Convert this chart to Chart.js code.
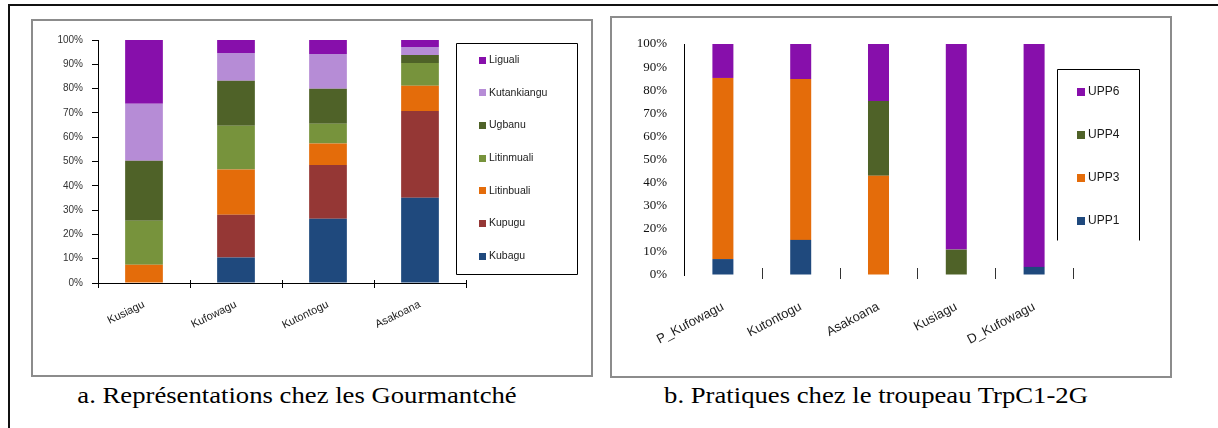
<!DOCTYPE html>
<html>
<head>
<meta charset="utf-8">
<script src="https://cdn.jsdelivr.net/npm/chart.js@4.4.0/dist/chart.umd.min.js"></script>
<style>
  body { margin: 0; width: 1218px; height: 428px; background: #fff; position: relative; overflow: hidden; }
  .frame { position: absolute; left: 8px; top: 4px; width: 1400px; height: 600px; border: 2px solid #111; box-sizing: border-box; }
  .panel { position: absolute; border: 2px solid #8c8c8c; box-sizing: border-box; }
  #panelA { left: 31px; top: 19px; width: 562px; height: 358px; }
  #panelB { left: 610px; top: 16px; width: 562px; height: 362px; }
  .box { position: absolute; }
  #boxA { left: 33px; top: 21px; width: 558px; height: 354px; }
  #boxB { left: 612px; top: 18px; width: 558px; height: 358px; }
  .caption { position: absolute; top: 384px; font-family: 'Liberation Serif', 'Times New Roman', serif; font-size: 23px; line-height: 23px; color: #000; white-space: nowrap; transform: translateX(-50%) scaleX(1.16); }
</style>
</head>
<body>
<div class="frame"></div>
<div class="panel" id="panelA"></div>
<div class="panel" id="panelB"></div>
<div class="box" id="boxA"><canvas id="chartA"></canvas></div>
<div class="box" id="boxB"><canvas id="chartB"></canvas></div>
<div class="caption" style="left:297px">a. Représentations chez les Gourmantché</div>
<div class="caption" style="left:876px">b. Pratiques chez le troupeau TrpC1-2G</div>

<script>
// --- chart a: representations (percent of each category)
const categoriesA = ['Kusiagu', 'Kufowagu', 'Kutontogu', 'Asakoana'];
const kubagu      = [0,    10.5, 26.4, 35.1];
const kupugu      = [0,    17.6, 22.2, 35.7];
const litinbuali  = [7.5,  18.6, 8.8,  10.4];
const litinmuali  = [18.1, 18.0, 8.1,  9.3];
const ugbanu      = [24.7, 18.5, 14.4, 3.3];
const kutankiangu = [23.5, 11.5, 14.3, 3.3];
const liguali     = [26.2, 5.3,  5.8,  2.9];

// --- chart b: practices in herd TrpC1-2G
const categoriesB = ['P_Kufowagu', 'Kutontogu', 'Asakoana', 'Kusiagu', 'D_Kufowagu'];
const upp1 = [6.9,  15.2, 0,    0,    3.5];
const upp3 = [78.4, 69.6, 43.0, 0,    0];
const upp4 = [0,    0,    32.3, 11.0, 0];
const upp6 = [14.7, 15.2, 24.7, 89.0, 96.5];

const yTicks = [0, 10, 20, 30, 40, 50, 60, 70, 80, 90, 100];

const colors = {
    blue: '#1F497D',
    red: '#953735',
    orange: '#E46C0A',
    lightGreen: '#77933C',
    darkGreen: '#4F6228',
    lilac: '#B68CD6',
    purple: '#870FAB'
};

// legend in a framed box, top item = top of the stack
const boxLegend = {
    id: 'boxLegend',
    afterDraw(chart, args, opts) {
        const ctx = chart.ctx;
        const b = opts.box;
        ctx.save();
        ctx.strokeStyle = '#000';
        ctx.lineWidth = 1;
        ctx.beginPath();
        const x0 = b.x + 0.5, y0 = b.y + 0.5, x1 = b.x + b.w + 0.5, y1 = b.y + b.h + 0.5;
        if (opts.openBottom) {
            ctx.moveTo(x0, y1); ctx.lineTo(x0, y0); ctx.lineTo(x1, y0); ctx.lineTo(x1, y1);
        } else {
            ctx.rect(x0, y0, b.w, b.h);
        }
        ctx.stroke();
        ctx.font = opts.font;
        ctx.textBaseline = 'middle';
        chart.data.datasets.slice().reverse().forEach((ds, i) => {
            const cy = opts.firstY + i * opts.step;
            ctx.fillStyle = ds.backgroundColor;
            ctx.fillRect(opts.markX, Math.round(cy - opts.mark / 2), opts.mark, opts.mark);
            ctx.fillStyle = '#1a1a1a';
            ctx.fillText(ds.label, opts.textX, cy);
        });
        ctx.restore();
    }
};

// category tick marks crossing the x axis line, excel style
const crossTicks = {
    id: 'crossTicks',
    afterDraw(chart, args, opts) {
        const xs = chart.scales.x;
        const n = chart.data.labels.length;
        const ctx = chart.ctx;
        ctx.save();
        ctx.strokeStyle = opts.color;
        ctx.lineWidth = 1;
        ctx.beginPath();
        for (let i = opts.first; i <= n; i++) {
            const px = Math.round(xs.left + i * xs.width / n) + 0.5;
            ctx.moveTo(px, xs.top - opts.up);
            ctx.lineTo(px, xs.top + opts.down);
        }
        ctx.stroke();
        ctx.restore();
    }
};

const makeSet = (label, values, color, pct) => ({
    label,
    data: values,
    backgroundColor: color,
    borderWidth: 0,
    barPercentage: pct,
    categoryPercentage: 1
});

const pctTick = v => yTicks.includes(v) ? v + '%' : '';

new Chart(document.getElementById('chartA'), {
    type: 'bar',
    data: {
        labels: categoriesA,
        datasets: [
            makeSet('Kubagu', kubagu, colors.blue, 0.41),
            makeSet('Kupugu', kupugu, colors.red, 0.41),
            makeSet('Litinbuali', litinbuali, colors.orange, 0.41),
            makeSet('Litinmuali', litinmuali, colors.lightGreen, 0.41),
            makeSet('Ugbanu', ugbanu, colors.darkGreen, 0.41),
            makeSet('Kutankiangu', kutankiangu, colors.lilac, 0.41),
            makeSet('Liguali', liguali, colors.purple, 0.41)
        ]
    },
    options: {
        responsive: true,
        maintainAspectRatio: false,
        animation: false,
        layout: { padding: { left: 0, top: 19, right: 125, bottom: 0 } },
        plugins: {
            legend: { display: false },
            tooltip: { enabled: false },
            boxLegend: {
                box: { x: 423, y: 22, w: 121, h: 231 },
                firstY: 39, step: 32.7,
                markX: 446, mark: 7, textX: 456,
                font: '10.5px "Liberation Sans", Arial, sans-serif'
            },
            crossTicks: { color: '#000', up: 3, down: 5, first: 0 }
        },
        scales: {
            x: {
                stacked: true,
                afterFit(scale) { scale.height = 92; },
                grid: { drawOnChartArea: false, drawTicks: false },
                border: { display: true, color: '#000', width: 1 },
                ticks: {
                    autoSkip: false,
                    minRotation: 26,
                    maxRotation: 26,
                    padding: 15,
                    color: '#222',
                    font: { family: '"Liberation Sans", Arial, sans-serif', size: 11 }
                }
            },
            y: {
                stacked: true,
                min: 0,
                max: 100,
                afterFit(scale) { scale.width = 65; },
                grid: { drawOnChartArea: false, drawTicks: true, tickLength: 6, color: '#000' },
                border: { display: true, color: '#000', width: 1 },
                ticks: {
                    stepSize: 10,
                    padding: 9,
                    color: '#333',
                    font: { family: '"Liberation Sans", Arial, sans-serif', size: 10 },
                    callback: pctTick
                }
            }
        }
    },
    plugins: [boxLegend, crossTicks]
});

new Chart(document.getElementById('chartB'), {
    type: 'bar',
    data: {
        labels: categoriesB,
        datasets: [
            makeSet('UPP1', upp1, colors.blue, 0.27),
            makeSet('UPP3', upp3, colors.orange, 0.27),
            makeSet('UPP4', upp4, colors.darkGreen, 0.27),
            makeSet('UPP6', upp6, colors.purple, 0.27)
        ]
    },
    options: {
        responsive: true,
        maintainAspectRatio: false,
        animation: false,
        layout: { padding: { left: 0, top: 26, right: 97, bottom: 0 } },
        plugins: {
            legend: { display: false },
            tooltip: { enabled: false },
            boxLegend: {
                box: { x: 445, y: 51, w: 82, h: 171 },
                openBottom: true,
                firstY: 74, step: 43,
                markX: 465, mark: 8, textX: 476,
                font: '12px "Liberation Sans", Arial, sans-serif'
            },
            crossTicks: { color: '#333', up: 7, down: 4, first: 1 }
        },
        scales: {
            x: {
                stacked: true,
                afterFit(scale) { scale.height = 101; },
                grid: { drawOnChartArea: false, drawTicks: false },
                border: { display: false },
                ticks: {
                    autoSkip: false,
                    minRotation: 28,
                    maxRotation: 28,
                    padding: 24,
                    color: '#222',
                    font: { family: '"Liberation Sans", Arial, sans-serif', size: 13 }
                }
            },
            y: {
                stacked: true,
                min: 0,
                max: 100,
                afterFit(scale) { scale.width = 72; },
                grid: { drawOnChartArea: false, drawTicks: false },
                border: { display: true, color: '#000', width: 1 },
                ticks: {
                    stepSize: 10,
                    padding: 17,
                    color: '#111',
                    font: { family: '"Liberation Serif", "Times New Roman", serif', size: 13 },
                    callback: pctTick
                }
            }
        }
    },
    plugins: [boxLegend, crossTicks]
});
</script>
</body>
</html>
